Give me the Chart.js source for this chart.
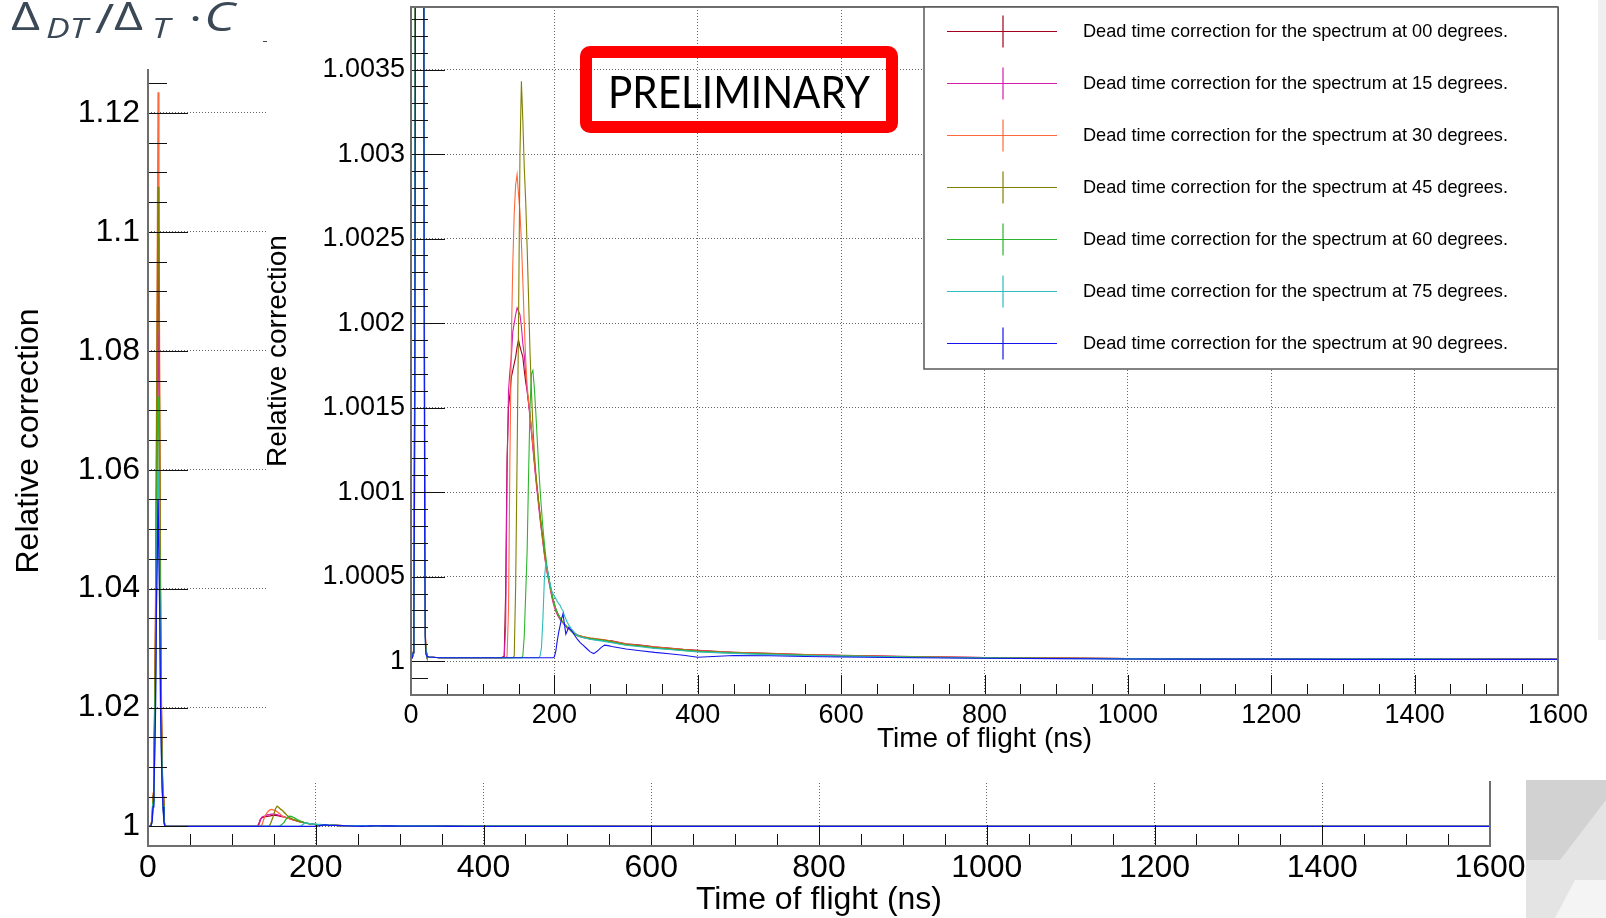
<!DOCTYPE html>
<html>
<head>
<meta charset="utf-8">
<script src="https://cdn.jsdelivr.net/npm/chart.js@4.4.1/dist/chart.umd.min.js"></script>
<style>
  html, body { margin: 0; padding: 0; background: #fff; }
  body { width: 1606px; height: 918px; position: relative; overflow: hidden; }
  #outer { position: absolute; left: 0; top: 0; }
  #inset { position: absolute; left: 267px; top: 0; background: #fff; }
  #formula span { position: absolute; color: #3b4957; font-family: 'Open Sans', sans-serif; line-height: 1;
                  white-space: nowrap; transform: scaleX(1.32); transform-origin: left top; }
  #formula .it { font-style: italic; }
  #dash { position: absolute; left: 263px; top: 41px; width: 4px; height: 1px; background: #444; }
  #deco { position: absolute; left: 0; top: 0; pointer-events: none; }
</style>
</head>
<body>
<canvas id="outer" width="1606" height="918"></canvas>
<canvas id="inset" width="1339" height="781"></canvas>
<div id="formula">
  <span style="left:11px; top:-4px; font-size:38px;">Δ</span>
  <span class="it" style="left:46px; top:14px; font-size:27px;">DT</span>
  <span style="left:95px; top:-2px; font-size:40px;">/</span>
  <span style="left:114px; top:-4px; font-size:38px;">Δ</span>
  <span class="it" style="left:152px; top:14px; font-size:27px;">T</span>
  <span style="left:189px; top:-2px; font-size:38px;">·</span>
  <span class="it" style="left:204px; top:-4px; font-size:40px;">C</span>
</div>
<div id="dash"></div>
<svg id="deco" width="1606" height="918">
  <rect x="1598" y="0" width="8" height="640" fill="#efefef"/>
  <rect x="1526" y="780" width="80" height="138" fill="#e4e4e4"/>
  <polygon points="1526,780 1606,780 1606,800 1560,860 1526,860" fill="#d2d2d2"/>
  <polygon points="1555,918 1575,880 1606,880 1606,918" fill="#f4f4f4"/>
</svg>
<script>
// time of flight (ns), shared by all spectra
const tof = [
  0, 2, 3, 4, 5, 6, 7, 8, 9, 10, 11, 12, 13, 14, 15, 16, 17, 18, 19, 20, 21, 22, 25, 40, 80, 120, 126, 130,
  132, 134, 136, 138, 140, 142, 144, 146, 148, 150, 152, 154, 156, 158, 160, 162, 164, 166, 168, 170, 172, 174, 176, 178, 180,
  182, 184, 186, 188, 190, 192, 194, 196, 198, 200, 202, 204, 206, 208, 210, 212, 214, 216, 218, 220,
  224, 228, 232, 236, 240, 245, 250, 255, 260, 265, 270, 275, 280, 290, 300,
  320, 340, 360, 380, 400, 450, 500, 550, 600, 700, 800, 900, 1000, 1100, 1200, 1300, 1400, 1500, 1600, 1600
];

// relative dead time correction per angle
const corr00 = [
  1.00002, 1.00002, 1.00005, 1.0004, 1.0015, 1.005, 1.01, 1.019, 1.032, 1.055, 1.078, 1.099, 1.09, 1.06, 1.034, 1.019, 1.009, 1.0045, 1.0012, 1.00015, 1.00005, 1.00003, 1.000025, 1.00002, 1.00002, 1.00002, 1.00002, 1.00003,
  1.0004, 1.0012, 1.0015, 1.00158, 1.00168, 1.00172, 1.00176, 1.0018, 1.00186, 1.0019, 1.00186, 1.00183, 1.0018, 1.00172, 1.00165, 1.0016, 1.00153, 1.00146, 1.00137, 1.00128, 1.00119, 1.0011, 1.00102, 1.00094, 1.00086,
  1.00079, 1.00072, 1.00065, 1.00059, 1.00054, 1.0005, 1.00045, 1.0004, 1.00036, 1.00033, 1.000305, 1.000285, 1.00027, 1.000255, 1.00024, 1.00023, 1.00022, 1.00021, 1.0002, 1.000195,
  1.00018, 1.000165, 1.000155, 1.00015, 1.000145, 1.00014, 1.000135, 1.000132, 1.00013, 1.000128, 1.000125, 1.000122, 1.00012, 1.000112, 1.000103,
  1.000095, 1.000085, 1.000078, 1.00007, 1.000064, 1.000053, 1.000046, 1.00004, 1.000035, 1.000027, 1.000022, 1.000019, 1.000016, 1.000015, 1.000014, 1.000013, 1.000013, 1.000012, 1.000012, 0.99
];
const corr15 = [
  1.00002, 1.00002, 1.00005, 1.0004, 1.0014, 1.0045, 1.009, 1.017, 1.029, 1.05, 1.07, 1.0832, 1.076, 1.05, 1.029, 1.017, 1.008, 1.004, 1.0011, 1.00015, 1.00005, 1.00003, 1.000025, 1.00002, 1.00002, 1.00002, 1.00002, 1.000025,
  1.0002, 1.0011, 1.0016, 1.00172, 1.0018, 1.00195, 1.002, 1.00205, 1.00209, 1.00207, 1.00205, 1.00198, 1.00188, 1.00181, 1.0017, 1.0016, 1.00152, 1.00144, 1.00135, 1.00126, 1.00117, 1.00108, 1.001, 1.00092, 1.00084,
  1.00077, 1.0007, 1.00063, 1.00057, 1.00052, 1.00048, 1.00043, 1.00039, 1.00035, 1.00032, 1.000295, 1.000275, 1.00026, 1.000245, 1.000235, 1.000225, 1.000215, 1.000205, 1.000195, 1.00019,
  1.000175, 1.00016, 1.00015, 1.000145, 1.00014, 1.000136, 1.000132, 1.000129, 1.000127, 1.000125, 1.000122, 1.000119, 1.000116, 1.000109, 1.0001,
  1.000092, 1.000082, 1.000075, 1.000068, 1.000061, 1.000051, 1.000044, 1.000038, 1.000033, 1.000026, 1.000021, 1.000018, 1.000015, 1.000014, 1.000013, 1.000013, 1.000012, 1.000012, 1.000012, 0.99
];
const corr30 = [
  1.00002, 1.00002, 1.00006, 1.0005, 1.0017, 1.0056, 1.011, 1.022, 1.038, 1.065, 1.095, 1.1235, 1.108, 1.072, 1.04, 1.022, 1.0105, 1.0052, 1.0014, 1.00018, 1.00005, 1.00003, 1.000025, 1.00002, 1.00002, 1.00002, 1.00002, 1.00002,
  1.00002, 1.00003, 1.0003, 1.0012, 1.0019, 1.00235, 1.00265, 1.00282, 1.00288, 1.00276, 1.00266, 1.00248, 1.00225, 1.002, 1.00178, 1.00163, 1.00154, 1.00146, 1.00137, 1.00128, 1.00119, 1.0011, 1.00102, 1.00094, 1.00086,
  1.00078, 1.00071, 1.00064, 1.00058, 1.00053, 1.00048, 1.00044, 1.0004, 1.00036, 1.00033, 1.000305, 1.000285, 1.00027, 1.000255, 1.00024, 1.00023, 1.00022, 1.00021, 1.0002, 1.000195,
  1.00018, 1.000165, 1.000155, 1.00015, 1.000145, 1.000142, 1.000138, 1.000135, 1.000133, 1.00013, 1.000126, 1.000122, 1.000118, 1.00011, 1.000101,
  1.000093, 1.000083, 1.000076, 1.000069, 1.000062, 1.000052, 1.000045, 1.000039, 1.000034, 1.000026, 1.000021, 1.000018, 1.000016, 1.000015, 1.000014, 1.000013, 1.000013, 1.000012, 1.000012, 0.99
];
const corr45 = [
  1.00002, 1.00002, 1.00005, 1.00045, 1.0016, 1.0052, 1.01, 1.02, 1.034, 1.059, 1.086, 1.1076, 1.097, 1.064, 1.036, 1.02, 1.0095, 1.0048, 1.0013, 1.00016, 1.00005, 1.00003, 1.000025, 1.00002, 1.00002, 1.00002, 1.00002, 1.00002,
  1.00002, 1.00002, 1.00002, 1.00002, 1.00002, 1.00002, 1.00003, 1.00045, 1.0012, 1.002, 1.003, 1.00343, 1.0032, 1.00292, 1.00272, 1.00245, 1.00215, 1.00183, 1.0016, 1.0014, 1.00124, 1.00112, 1.00103, 1.00095, 1.00087,
  1.00079, 1.00072, 1.00065, 1.00059, 1.00054, 1.00049, 1.00045, 1.00041, 1.00037, 1.00034, 1.00031, 1.00029, 1.00027, 1.000255, 1.00024, 1.00023, 1.00022, 1.00021, 1.0002, 1.000195,
  1.000178, 1.000163, 1.000153, 1.000148, 1.000143, 1.00014, 1.000136, 1.000133, 1.00013, 1.000128, 1.000124, 1.00012, 1.000116, 1.000108, 1.000099,
  1.000091, 1.000081, 1.000074, 1.000067, 1.00006, 1.00005, 1.000043, 1.000037, 1.000032, 1.000025, 1.00002, 1.000017, 1.000015, 1.000014, 1.000013, 1.000012, 1.000012, 1.000012, 1.000011, 0.99
];
const corr60 = [
  1.00002, 1.00002, 1.00005, 1.00035, 1.0013, 1.0042, 1.008, 1.015, 1.026, 1.043, 1.062, 1.0723, 1.067, 1.044, 1.025, 1.015, 1.007, 1.0036, 1.001, 1.00014, 1.00005, 1.00003, 1.000025, 1.00002, 1.00002, 1.00002, 1.00002, 1.00002,
  1.00002, 1.00002, 1.00002, 1.00002, 1.00002, 1.00002, 1.00002, 1.00002, 1.00002, 1.00002, 1.00002, 1.00002, 1.00003, 1.00015, 1.0004, 1.00065, 1.0011, 1.0015, 1.0017, 1.00172, 1.00162, 1.00148, 1.00132, 1.00116, 1.00102,
  1.0009, 1.00079, 1.0007, 1.00062, 1.00055, 1.00049, 1.00045, 1.00041, 1.00037, 1.00034, 1.00031, 1.00029, 1.00027, 1.000255, 1.00024, 1.00023, 1.00022, 1.00021, 1.0002, 1.000195,
  1.000175, 1.00016, 1.00015, 1.000145, 1.00014, 1.000136, 1.000132, 1.000129, 1.000126, 1.000123, 1.00012, 1.000116, 1.000112, 1.000104, 1.000096,
  1.000088, 1.000078, 1.000071, 1.000064, 1.000057, 1.000048, 1.000041, 1.000035, 1.000031, 1.000024, 1.000019, 1.000017, 1.000015, 1.000014, 1.000013, 1.000012, 1.000012, 1.000011, 1.000011, 0.99
];
const corr75 = [
  1.00002, 1.00002, 1.00005, 1.00032, 1.00115, 1.0038, 1.007, 1.0135, 1.023, 1.039, 1.052, 1.06, 1.058, 1.039, 1.022, 1.0135, 1.0065, 1.0034, 1.0009, 1.00012, 1.00004, 1.00003, 1.000025, 1.00002, 1.00002, 1.00002, 1.00002, 1.00002,
  1.00002, 1.00002, 1.00002, 1.00002, 1.00002, 1.00002, 1.00002, 1.00002, 1.00002, 1.00002, 1.00002, 1.00002, 1.00002, 1.00002, 1.00002, 1.00002, 1.00002, 1.00002, 1.00002, 1.00002, 1.00002, 1.00002, 1.00002, 1.00002, 1.00003,
  1.00008, 1.00025, 1.00048, 1.00058, 1.00055, 1.0005, 1.00046, 1.00042, 1.0004, 1.000385, 1.00037, 1.000355, 1.00034, 1.00033, 1.00031, 1.0003, 1.00027, 1.00025, 1.00023, 1.000215,
  1.00019, 1.00017, 1.000155, 1.000145, 1.00014, 1.000135, 1.00013, 1.000126, 1.000123, 1.00012, 1.000117, 1.000113, 1.00011, 1.000102, 1.000094,
  1.000085, 1.000076, 1.000069, 1.000062, 1.000055, 1.000046, 1.000039, 1.000034, 1.00003, 1.000023, 1.000019, 1.000016, 1.000014, 1.000013, 1.000013, 1.000012, 1.000012, 1.000011, 1.000011, 0.99
];
const corr90 = [
  1.00002, 1.00002, 1.00005, 1.0003, 1.001, 1.0033, 1.006, 1.012, 1.02, 1.036, 1.045, 1.055, 1.055, 1.036, 1.02, 1.012, 1.006, 1.0033, 1.0008, 1.0001, 1.00004, 1.00003, 1.000025, 1.00002, 1.00002, 1.00002, 1.00002, 1.00002,
  1.00002, 1.00002, 1.00002, 1.00002, 1.00002, 1.00002, 1.00002, 1.00002, 1.00002, 1.00002, 1.00002, 1.00002, 1.00002, 1.00002, 1.00002, 1.00002, 1.00002, 1.00002, 1.00002, 1.00002, 1.00002, 1.00002, 1.00002, 1.00002, 1.00002,
  1.00002, 1.00002, 1.00002, 1.00002, 1.00002, 1.00002, 1.00002, 1.00002, 1.00002, 1.000025, 1.00006, 1.00012, 1.00017, 1.00021, 1.00025, 1.00028, 1.00022, 1.00016, 1.00018, 1.0002,
  1.00018, 1.000155, 1.00013, 1.00011, 1.000095, 1.000075, 1.000055, 1.000045, 1.00006, 1.00008, 1.000095, 1.000092, 1.000087, 1.00008, 1.000072,
  1.000062, 1.000052, 1.000044, 1.000035, 1.000023, 1.000034, 1.000032, 1.000028, 1.000025, 1.00002, 1.000017, 1.000015, 1.000013, 1.000012, 1.000012, 1.000011, 1.000011, 1.000011, 1.000011, 0.99
];

const angles = ['00', '15', '30', '45', '60', '75', '90'];
const corrections = [corr00, corr15, corr30, corr45, corr60, corr75, corr90];
const seriesColors = ['#a3001f', '#d81cb0', '#ff6a3c', '#838000', '#2cb52c', '#2ebcbc', '#1414ee'];

const timeTicks = [0, 200, 400, 600, 800, 1000, 1200, 1400, 1600];
const timeTickLabels = ['0', '200', '400', '600', '800', '1000', '1200', '1400', '1600'];
const outerTicks = [1, 1.02, 1.04, 1.06, 1.08, 1.1, 1.12];
const outerTickLabels = ['1', '1.02', '1.04', '1.06', '1.08', '1.1', '1.12'];
const insetTicks = [1, 1.0005, 1.001, 1.0015, 1.002, 1.0025, 1.003, 1.0035];
const insetTickLabels = ['1', '1.0005', '1.001', '1.0015', '1.002', '1.0025', '1.003', '1.0035'];

const FONT = "'Liberation Sans', Arial, Helvetica, sans-serif";

function steps(from, to, step) {
  const out = [];
  for (let v = from; v <= to + step / 2; v += step) out.push(+v.toFixed(6));
  return out;
}

function buildDatasets(width) {
  return corrections.map((vals, i) => ({
    label: 'Dead time correction for the spectrum at ' + angles[i] + ' degrees.',
    data: tof.map((t, k) => ({ x: t, y: vals[k] })),
    borderColor: seriesColors[i],
    borderWidth: width,
    pointRadius: 0,
    fill: false,
    tension: 0,
    order: corrections.length - 1 - i
  }));
}

function fixedAxis(values, labels, size) {
  return {
    afterBuildTicks: s => { s.ticks = values.map(v => ({ value: v })); },
    afterTickToLabelConversion: s => { s.ticks.forEach((t, i) => { t.label = labels[i]; }); },
    afterFit: s => {
      if (s.isHorizontal()) s.height = size; else s.width = size;
      s.paddingTop = s.paddingBottom = s.paddingLeft = s.paddingRight = 0;
    }
  };
}

// ROOT style: ticks inside the frame, frame box
const rootFrame = {
  id: 'rootFrame',
  afterDraw(chart, args, o) {
    const { ctx, chartArea: a } = chart;
    const xs = chart.scales.x, ys = chart.scales.y;
    const xp = v => Math.round(xs.getPixelForValue(v)) + 0.5;
    const yp = v => Math.round(ys.getPixelForValue(v)) + 0.5;
    ctx.save();
    ctx.lineWidth = 1;
    ctx.strokeStyle = '#111';
    ctx.beginPath();
    o.xMinor.forEach(v => { const p = xp(v); ctx.moveTo(p, a.bottom); ctx.lineTo(p, a.bottom - o.xMinorLen); });
    timeTicks.forEach(v => { const p = xp(v); ctx.moveTo(p, a.bottom); ctx.lineTo(p, a.bottom - o.xMajorLen); });
    o.yMinor.forEach(v => {
      if (v < ys.min || v > ys.max) return;
      const p = yp(v); ctx.moveTo(a.left, p); ctx.lineTo(a.left + o.yMinorLen, p);
    });
    o.yMajor.forEach(v => { const p = yp(v); ctx.moveTo(a.left, p); ctx.lineTo(a.left + o.yMajorLen, p); });
    ctx.stroke();

    ctx.strokeStyle = '#6e6e6e';
    ctx.lineWidth = 2;
    ctx.beginPath();
    ctx.moveTo(a.right, a.top);
    ctx.lineTo(a.right, a.bottom);
    ctx.lineTo(a.left, a.bottom);
    ctx.lineTo(a.left, a.top);
    if (o.closed) ctx.lineTo(a.right, a.top);
    ctx.stroke();

    if (o.sideTitle) {
      ctx.translate(o.sideTitle.x, o.sideTitle.y);
      ctx.rotate(-Math.PI / 2);
      ctx.fillStyle = '#000';
      ctx.font = o.sideTitle.size + 'px ' + FONT;
      ctx.textAlign = 'center';
      ctx.textBaseline = 'middle';
      ctx.fillText(o.sideTitle.text, 0, 0);
    }
    ctx.restore();
  }
};

// legend box and PRELIMINARY stamp of the inset
const insetExtras = {
  id: 'insetExtras',
  afterDraw(chart, args, o) {
    const { ctx } = chart;
    const L = o.box[0], T = o.box[1], R = o.box[2], B = o.box[3];
    ctx.save();
    ctx.fillStyle = '#fff';
    ctx.fillRect(L, T, R - L, B - T);
    ctx.strokeStyle = '#5a5a5a';
    ctx.lineWidth = 1.5;
    ctx.strokeRect(L, T, R - L, B - T);
    chart.data.datasets.forEach((ds, i) => {
      const cy = Math.round(o.rowTop + i * o.rowStep) + 0.5;
      ctx.strokeStyle = ds.borderColor;
      ctx.lineWidth = 1.2;
      ctx.beginPath();
      ctx.moveTo(o.lineX[0], cy); ctx.lineTo(o.lineX[1], cy);
      ctx.moveTo(o.crossX, cy - o.crossH); ctx.lineTo(o.crossX, cy + o.crossH);
      ctx.stroke();
      ctx.fillStyle = '#000';
      ctx.font = o.textSize + 'px ' + FONT;
      ctx.textAlign = 'left';
      ctx.textBaseline = 'middle';
      ctx.fillText(ds.label, o.textX, cy, o.textMax);
    });

    const s = o.stamp;
    ctx.strokeStyle = '#ff0000';
    ctx.lineWidth = 12;
    ctx.lineJoin = 'round';
    ctx.beginPath();
    ctx.roundRect(s.x, s.y, s.w, s.h, 4);
    ctx.stroke();
    ctx.fillStyle = '#000';
    ctx.font = s.size + "px Lato, 'Open Sans', sans-serif";
    ctx.textAlign = 'center';
    ctx.textBaseline = 'alphabetic';
    ctx.fillText('PRELIMINARY', s.tx, s.ty, s.tmax);
    ctx.restore();
  }
};

function gridStyle() {
  return { color: '#666', lineWidth: 1, drawTicks: false };
}

// outer (full scale) chart
new Chart(document.getElementById('outer'), {
  type: 'line',
  data: { datasets: buildDatasets(1.3) },
  options: {
    responsive: false,
    animation: false,
    devicePixelRatio: 1,
    events: [],
    layout: { padding: { left: 0, top: 69, right: 116, bottom: 0 } },
    plugins: {
      legend: { display: false },
      tooltip: { enabled: false },
      rootFrame: {
        xMinor: steps(0, 1600, 50), xMinorLen: 12, xMajorLen: 21,
        yMinor: steps(1, 1.125, 0.005), yMinorLen: 19, yMajor: outerTicks, yMajorLen: 40,
        closed: false,
        sideTitle: { text: 'Relative correction', x: 29, y: 441, size: 32 }
      }
    },
    scales: {
      x: Object.assign({
        type: 'linear', min: 0, max: 1600,
        grid: gridStyle(),
        border: { display: false, dash: [1, 2] },
        ticks: { color: '#000', font: { family: FONT, size: 32 }, padding: 3, maxRotation: 0, autoSkip: false },
        title: { display: true, text: 'Time of flight (ns)', color: '#000',
                 font: { family: FONT, size: 32, lineHeight: 1.1 }, padding: { top: 0, bottom: 0 } }
      }, fixedAxis(timeTicks, timeTickLabels, 72)),
      y: Object.assign({
        type: 'linear', min: 0.99672, max: 1.1274,
        grid: gridStyle(),
        border: { display: false, dash: [1, 2] },
        ticks: { color: '#000', font: { family: FONT, size: 32 }, padding: 8, autoSkip: false }
      }, fixedAxis(outerTicks, outerTickLabels, 148))
    }
  },
  plugins: [rootFrame]
});

// zoomed inset chart
new Chart(document.getElementById('inset'), {
  type: 'line',
  data: { datasets: buildDatasets(1.1) },
  options: {
    responsive: false,
    animation: false,
    devicePixelRatio: 1,
    events: [],
    layout: { padding: { left: 0, top: 7, right: 48, bottom: 0 } },
    plugins: {
      legend: { display: false },
      tooltip: { enabled: false },
      rootFrame: {
        xMinor: steps(0, 1600, 50), xMinorLen: 11, xMajorLen: 20,
        yMinor: steps(0.9998, 1.0038, 0.0001), yMinorLen: 17, yMajor: insetTicks, yMajorLen: 34,
        closed: true
      },
      insetExtras: {
        box: [657, 7, 1291, 369],
        rowTop: 30.7, rowStep: 52.07,
        lineX: [680, 790], crossX: 736, crossH: 16,
        textX: 816, textSize: 18.2, textMax: 425,
        stamp: { x: 319, y: 52, w: 306, h: 75, size: 44, tx: 472, ty: 107.5, tmax: 262 }
      }
    },
    scales: {
      x: Object.assign({
        type: 'linear', min: 0, max: 1600,
        grid: gridStyle(),
        border: { display: false, dash: [1, 2] },
        ticks: { color: '#000', font: { family: FONT, size: 27 }, padding: 4, maxRotation: 0, autoSkip: false },
        title: { display: true, text: 'Time of flight (ns)', color: '#000',
                 font: { family: FONT, size: 28 }, padding: { top: 0, bottom: 25 } }
      }, fixedAxis(timeTicks, timeTickLabels, 86)),
      y: Object.assign({
        type: 'linear', min: 0.9998, max: 1.00387,
        grid: gridStyle(),
        border: { display: false, dash: [1, 2] },
        ticks: { color: '#000', font: { family: FONT, size: 27 }, padding: 6, autoSkip: false },
        title: { display: true, text: 'Relative correction', color: '#000',
                 font: { family: FONT, size: 28, lineHeight: 0.8 }, padding: { top: 0, bottom: 0 } }
      }, fixedAxis(insetTicks, insetTickLabels, 144))
    }
  },
  plugins: [rootFrame, insetExtras]
});
</script>
</body>
</html>
